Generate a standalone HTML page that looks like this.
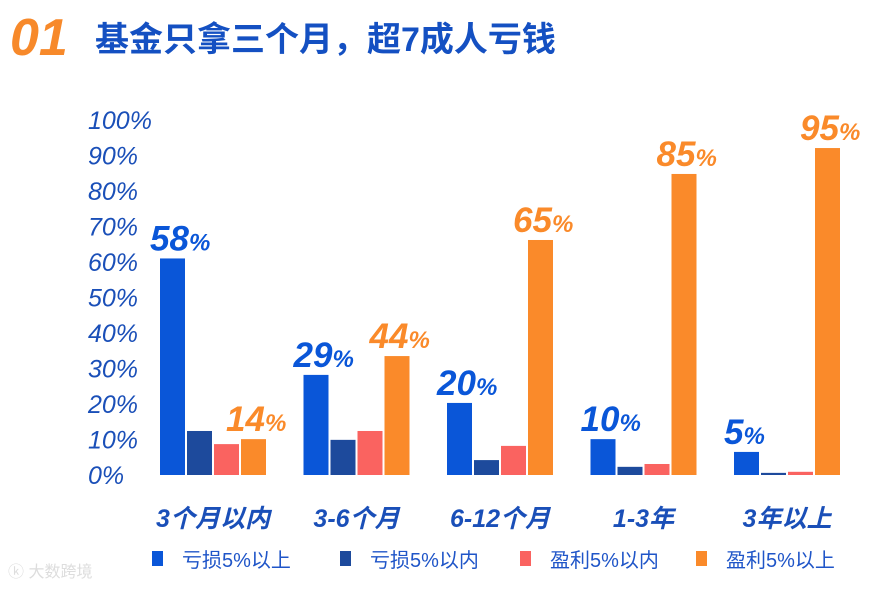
<!DOCTYPE html>
<html><head><meta charset="utf-8"><style>
body{margin:0;width:887px;height:589px;background:#fff;overflow:hidden;font-family:"Liberation Sans","Noto Sans CJK SC",sans-serif}
</style></head><body>
<svg width="887" height="589">
<text x="10" y="55" font-size="52" font-weight="bold" font-style="italic" fill="#f7892a">01</text>
<text x="95" y="51" font-size="34" font-weight="bold" fill="#1450c2" font-family="Liberation Sans, Noto Sans CJK SC, sans-serif">基金只拿三个月，超7成人亏钱</text>
<g id="yaxis"></g><g id="bars"></g><g id="labels"></g><g id="cats"></g><g id="legend"></g>
<text x="8" y="577" font-size="16" fill="#ddd">ⓚ 大数跨境</text>
</svg>
<script>
const categories=["3个月以内","3-6个月","6-12个月","1-3年","3年以上"];
const seriesNames=["亏损5%以上","亏损5%以内","盈利5%以内","盈利5%以上"];
const lossOver5=[61,28.2,20.3,10.1,6.5];
const lossUnder5=[12.4,9.9,4.2,2.3,0.6];
const gainUnder5=[8.7,12.4,8.2,3.1,0.9];
const gainOver5=[10.1,33.5,66.2,84.8,92.1];
const blueLabels=["58","29","20","10","5"];
const orangeLabels=["14","44","65","85","95"];
const yTicks=[0,10,20,30,40,50,60,70,80,90,100];
const colors=["#0a56d8","#1d4a9c","#fa6360","#fa8a2a"];
const NS="http://www.w3.org/2000/svg";
const y0=475,yTop=120;
function y(v){return y0-(y0-yTop)*v/100;}
function gx(i){return 160+i*143.5;}
const bw=25,step=27;
function mk(tag,attrs,parent){const e=document.createElementNS(NS,tag);for(const k in attrs)e.setAttribute(k,attrs[k]);document.getElementById(parent).appendChild(e);return e;}
yTicks.forEach(t=>{
 const e=mk('text',{x:88,y:y(t)+9,'font-size':25,'font-style':'italic',fill:'#1a4fb8'},'yaxis');
 e.textContent=t+'%';
 
 
});
const series=[lossOver5,lossUnder5,gainUnder5,gainOver5];
categories.forEach((c,i)=>{
 series.forEach((s,j)=>{
  const r=mk('rect',{x:gx(i)+j*step,y:y(s[i]),width:bw,height:y0-y(s[i]),fill:colors[j]},'bars');
  
  
 });
 const bl=mk('text',{x:gx(i)-10,y:y(lossOver5[i])-8,'font-size':35,'font-weight':'bold','font-style':'italic',fill:'#0a56d8'},'labels');
 bl.innerHTML=blueLabels[i]+'<tspan font-size="24">%</tspan>';
 
 
 const ol=mk('text',{x:gx(i)+3*step-15,y:y(gainOver5[i])-8,'font-size':35,'font-weight':'bold','font-style':'italic',fill:'#fa8a2a'},'labels');
 ol.innerHTML=orangeLabels[i]+'<tspan font-size="24">%</tspan>';
 
 
 const cl=mk('text',{x:gx(i)+53,y:527,'font-size':25,'font-weight':'bold','font-style':'italic',fill:'#1a4fb8','text-anchor':'middle'},'cats');
 cl.textContent=c;
 
 
});
const lx=[152,340,520,696];
seriesNames.forEach((n,j)=>{
 const r=mk('rect',{x:lx[j],y:551,width:11,height:15,fill:colors[j]},'legend');
 
 
 const t=mk('text',{x:lx[j]+30,y:567,'font-size':20,fill:'#1f55c8'},'legend');
 t.textContent=n;
 
 
});
</script>
</body></html>
